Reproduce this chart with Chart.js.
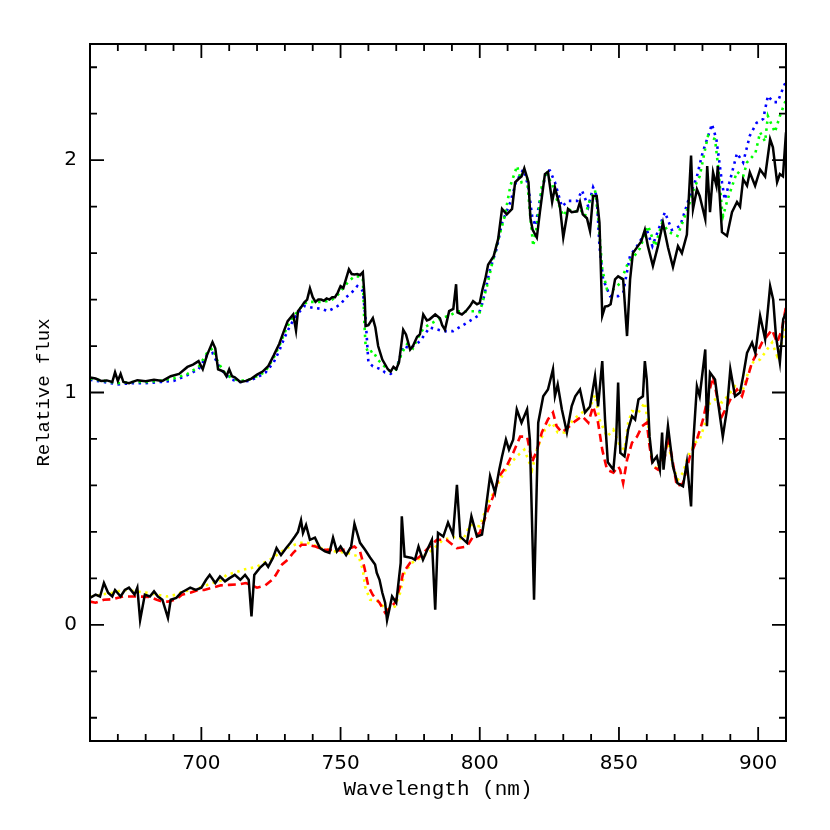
<!DOCTYPE html>
<html lang="en">
<head>
<meta charset="UTF-8">
<title>Relative flux</title>
<script src="https://cdn.jsdelivr.net/npm/chart.js"></script>
<style>
  html, body { margin: 0; padding: 0; background: #fff; }
  #wrap { width: 830px; height: 830px; }
</style>
</head>
<body>
<div id="wrap"><canvas id="spec" width="830" height="830"></canvas></div>
<script>
// upper spectrum (observed, offset +1) and its two models
const obsTopWave = [660,662,664,666,668,669,670,671,672,674,677,680,683,686,689,692,695,697,699,700.5,702,704,705,706,708,709,710,711,712,714,716,718,720,722,724,726,728,729.5,731,733,734,734.7,736,737,738,739,740,741,742,743,744,745,746,747,748,749,750,751,752,753,754,755,756,757,758,758.7,759,760,761.6,762.5,763.5,765,767,768,769,770,771,772.5,773.5,775,776,777.5,778.5,779.7,781,782,784,785.7,786.5,787.5,789,790.5,791.5,792,793.6,795,796.5,797.6,799,800,801,802,803,805,806.6,808,809.7,811.6,812.7,814,815,816,817.5,818.2,819,820.5,821.6,823.4,824.5,826,827,828.8,830,831.7,833,835,836,837,838.5,839.6,840.7,842,843,844,845,846,847,848.6,849.7,851.5,852.9,854,855,856.8,858,859.3,860.4,862.2,864,865.8,867.6,869.4,871.2,872.6,874.4,875.9,876.6,878,879,881,881.7,882.7,883.8,885,885.5,887,888.8,890.6,892.4,893.5,894.6,896,897,898.9,900.7,902.5,904.3,905.3,906.8,907.8,908.9,910];
const obsTopFlux = [1.065,1.06,1.05,1.052,1.045,1.087,1.05,1.08,1.045,1.04,1.053,1.048,1.055,1.05,1.07,1.08,1.11,1.12,1.135,1.10,1.16,1.217,1.19,1.10,1.09,1.07,1.10,1.07,1.065,1.045,1.05,1.06,1.077,1.09,1.113,1.16,1.21,1.26,1.307,1.336,1.267,1.35,1.37,1.388,1.40,1.448,1.41,1.39,1.40,1.40,1.395,1.405,1.40,1.41,1.41,1.43,1.458,1.45,1.49,1.53,1.51,1.508,1.51,1.505,1.518,1.40,1.286,1.29,1.32,1.28,1.20,1.142,1.10,1.09,1.11,1.10,1.13,1.27,1.25,1.185,1.20,1.24,1.25,1.336,1.31,1.315,1.336,1.32,1.29,1.27,1.35,1.36,1.466,1.345,1.336,1.35,1.372,1.393,1.38,1.386,1.444,1.49,1.55,1.587,1.66,1.79,1.767,1.79,1.905,1.92,1.93,1.965,1.905,1.75,1.70,1.667,1.776,1.94,1.95,1.82,1.883,1.80,1.667,1.79,1.776,1.78,1.82,1.767,1.75,1.695,1.846,1.846,1.73,1.33,1.37,1.372,1.38,1.487,1.50,1.487,1.243,1.487,1.60,1.63,1.65,1.70,1.63,1.545,1.63,1.73,1.625,1.54,1.63,1.60,1.68,2.02,1.79,1.875,1.846,1.746,1.975,1.776,1.948,1.89,1.975,1.69,1.674,1.776,1.82,1.80,1.918,1.89,1.948,1.89,1.96,1.93,2.09,2.055,1.905,1.94,1.93,2.12];

const modTopGreenWave = [660,665,670,675,680,685,690,695,699,702,704,706,708,711,714,717,720,723,726,728,730,732,734,736,738,741,744,747,749,751,753,755,757,758,758.5,759,760,761.5,763.5,766,768,770,772,774,776,778,780,783,786,789,792,795,798,800,802.6,804.8,807,809,811,813.4,815,817,818,819.2,820.5,822.3,824,826,827.7,830,831.7,834,836,837.8,839.6,841.4,842.5,844,845.7,848,850.4,853.3,856.4,857.5,860.5,863,865.5,868,871,873.7,875.5,877,879,881,882,884.5,885.6,887,887.4,889,892.4,894.6,896,899,900.7,902.5,903.5,906,907.8,910];
const modTopGreenFlux = [1.06,1.05,1.04,1.045,1.045,1.05,1.06,1.08,1.11,1.17,1.19,1.13,1.09,1.06,1.05,1.055,1.07,1.09,1.15,1.20,1.26,1.31,1.34,1.37,1.39,1.39,1.39,1.40,1.42,1.45,1.48,1.50,1.50,1.49,1.31,1.20,1.17,1.18,1.14,1.11,1.09,1.10,1.17,1.21,1.19,1.24,1.28,1.30,1.32,1.33,1.35,1.35,1.35,1.345,1.458,1.573,1.674,1.76,1.89,1.975,1.905,1.918,1.776,1.63,1.717,1.89,1.94,1.897,1.83,1.76,1.79,1.776,1.79,1.76,1.83,1.87,1.76,1.53,1.444,1.444,1.47,1.56,1.60,1.62,1.717,1.63,1.73,1.69,1.674,1.76,1.82,1.88,1.93,2.05,2.105,2.09,1.975,1.79,1.76,1.83,1.95,1.93,1.99,2.03,2.12,2.08,2.19,2.12,2.19,2.26];

const modTopBlueWave = [660,665,670,675,680,685,690,695,699,702,704,706,708,711,714,717,720,723,726,728,730,732,734,737,740,743,745.5,748,750,752,754,756,758,759,760,761.6,764.5,766,768,770,772.5,775,778.5,782,787,790.4,795.4,799.4,801,803.7,806,808,811,813,815.6,817.4,818.8,820,821.6,824,825.2,827,829.5,831.7,835,836.7,839,840.7,842,843,844.3,846.8,849.7,851.5,854,856.5,860,862,866.5,869,872,875,878,880,883.4,885,887,888,890,892.4,894.6,897,899.4,901.8,903.5,905.4,907,908.8,910];
const modTopBlueFlux = [1.055,1.045,1.035,1.04,1.04,1.045,1.05,1.075,1.10,1.16,1.17,1.12,1.085,1.055,1.045,1.05,1.065,1.085,1.13,1.18,1.24,1.29,1.33,1.372,1.365,1.36,1.35,1.365,1.38,1.41,1.43,1.458,1.437,1.315,1.13,1.113,1.10,1.086,1.08,1.10,1.20,1.19,1.22,1.28,1.264,1.264,1.30,1.33,1.386,1.53,1.616,1.73,1.82,1.905,1.96,1.89,1.76,1.717,1.83,1.955,1.955,1.905,1.80,1.825,1.825,1.87,1.80,1.883,1.846,1.63,1.487,1.415,1.415,1.43,1.59,1.63,1.70,1.63,1.776,1.70,1.717,1.83,1.93,2.03,2.155,2.09,1.905,1.83,1.918,2.03,1.99,2.105,2.16,2.177,2.277,2.25,2.25,2.306,2.34];

// lower spectrum (observed) and its two models
const obsBotWave = [660,662,663.6,665,666.5,668,669,671,672.5,674,676,677,678,679.7,681.5,683,684.4,686,688,689,691,692.7,694.5,696,698,700,701.7,703,705,706.7,708.5,710,712,714,715.7,717,718,719,721,723,724,725.7,727,728.6,730.4,732,733.6,734.7,735.8,736.5,737.6,739,740.8,742.6,744.4,746,747.3,748.7,750,752,753.8,755,757,758.8,760.6,762.4,763,764,765,766,766.7,768.5,770,771.6,772,773,775.6,776.7,778,779.6,781.4,782.8,784,785,786.9,788.6,790.4,791.8,793,795.4,797,799,800.8,802,803.7,805.5,807,808,809.4,810.5,812,813.3,815,817,818,819.5,821,822.8,824.5,826.3,827,828,829.5,831.3,833,834.3,836,837.8,839.6,841.4,842.5,844,845,846,848,849,849.7,850.5,852,853.3,854.7,855.8,857,858.6,859.3,860,861,862,863.6,864.7,865.5,866,867.6,869.4,871,873,874.4,875.9,876.6,878,879,881,881.6,882.7,884.5,885.6,887.3,888.8,890,891.7,893.5,894.6,896,897.8,899,900.7,902.5,904.3,905.4,906.4,907.8,909,910];
const obsBotFlux = [0.116,0.13,0.122,0.18,0.138,0.122,0.15,0.122,0.15,0.16,0.13,0.16,0.02,0.13,0.122,0.144,0.122,0.108,0.03,0.108,0.116,0.138,0.15,0.16,0.15,0.16,0.194,0.215,0.18,0.208,0.187,0.20,0.215,0.194,0.215,0.194,0.036,0.215,0.245,0.267,0.25,0.288,0.33,0.30,0.33,0.353,0.38,0.40,0.45,0.396,0.43,0.366,0.375,0.33,0.316,0.31,0.375,0.316,0.337,0.30,0.337,0.435,0.353,0.323,0.29,0.26,0.224,0.194,0.138,0.095,0.02,0.122,0.095,0.267,0.467,0.294,0.288,0.28,0.337,0.28,0.33,0.366,0.065,0.396,0.38,0.44,0.388,0.603,0.38,0.353,0.467,0.38,0.388,0.483,0.64,0.569,0.668,0.725,0.797,0.754,0.797,0.927,0.87,0.927,0.797,0.108,0.87,0.984,1.013,1.10,0.984,1.034,0.927,0.828,0.94,0.984,1.013,0.914,0.94,1.07,0.94,1.135,0.884,0.70,0.668,0.80,1.043,0.74,0.725,0.84,0.898,0.884,0.97,0.984,1.135,1.056,0.81,0.70,0.725,0.668,0.828,0.668,0.855,0.682,0.61,0.596,0.70,0.51,0.768,1.027,0.984,1.185,0.855,1.086,1.056,0.957,0.81,0.927,1.10,0.984,1.00,1.07,1.17,1.215,1.17,1.33,1.23,1.458,1.40,1.243,1.13,1.315,1.345];

const modBotRedWave = [660,662,665,668,672,677,681.5,684,686,688,691,693,696,699,701,704,707,710,714,716,718,720,723,726,729,731,733,736,738,741,744,746,750,753.4,755,757,758.5,760,761.5,764,766,767.8,769.5,771.4,772.5,775,778.5,781.4,784.6,788,791.8,795.4,797.6,800,802.6,804.8,807,809.6,812,814.5,817,818.8,820.6,822.3,824.5,826.3,827.6,829.5,831.8,834.3,836.8,839,840.7,842.5,844,845.7,848,849.7,850.4,851.5,852.9,854.7,856.5,858.3,860,861,862.2,864,866.5,867.6,869,870.8,873,875.5,878,880.2,882,883.8,885.6,887,888.8,890.6,892.4,894.2,896,897.8,899.6,901.4,903.2,905,906.8,908.5,910];
const modBotRedFlux = [0.10,0.095,0.108,0.11,0.122,0.122,0.12,0.108,0.10,0.10,0.11,0.13,0.138,0.15,0.15,0.16,0.17,0.172,0.175,0.18,0.17,0.16,0.17,0.20,0.26,0.28,0.31,0.345,0.345,0.337,0.323,0.323,0.32,0.33,0.337,0.316,0.25,0.165,0.13,0.095,0.052,0.073,0.095,0.165,0.224,0.267,0.294,0.33,0.366,0.366,0.33,0.337,0.38,0.396,0.483,0.553,0.64,0.682,0.74,0.81,0.81,0.70,0.754,0.828,0.884,0.914,0.855,0.828,0.85,0.877,0.898,0.87,0.94,0.87,0.754,0.668,0.655,0.682,0.668,0.61,0.71,0.784,0.81,0.855,0.87,0.768,0.682,0.668,0.725,0.81,0.725,0.596,0.61,0.725,0.797,0.884,0.984,1.07,0.957,0.898,0.94,0.984,1.013,0.984,1.056,1.13,1.17,1.215,1.243,1.27,1.215,1.27,1.37];

const modBotYellowWave = [660,664,668,672,676,680.5,684,687.6,691,693.4,697,700.6,704,707,709,712,715,720,723.6,726,728,731.8,735.4,738,740,743,746,748,752.3,755,756.5,758,758.8,760.6,763,766.7,769.5,771.4,773,775.6,779.6,783,786.8,791.8,794,796.5,800,803,805.5,808,810,813.3,816,818.8,820.5,823.4,826,828,830.6,833.6,836.8,839.6,841.4,843,845.7,848,850.4,852,853.3,854.7,857,859.3,860.4,861.8,863.6,865.8,867.6,869.4,871.2,873,874.8,877.3,879,881,882.7,884.5,887,889,891.7,894.2,896.4,898.2,900.7,903.2,905,906.8,908.5,910];
const modBotYellowFlux = [0.12,0.13,0.138,0.15,0.145,0.138,0.13,0.122,0.13,0.144,0.15,0.165,0.18,0.19,0.215,0.225,0.237,0.25,0.275,0.29,0.31,0.337,0.353,0.353,0.345,0.33,0.323,0.316,0.31,0.30,0.294,0.237,0.165,0.108,0.105,0.065,0.079,0.138,0.224,0.267,0.294,0.323,0.366,0.38,0.366,0.43,0.424,0.526,0.58,0.64,0.68,0.725,0.754,0.668,0.754,0.84,0.87,0.828,0.828,0.884,0.914,0.935,0.99,0.884,0.81,0.84,0.768,0.754,0.87,0.92,0.914,0.957,0.87,0.71,0.668,0.725,0.784,0.682,0.625,0.655,0.725,0.784,0.797,0.87,0.957,0.97,0.957,0.984,1.027,1.00,1.086,1.13,1.142,1.185,1.215,1.157,1.215,1.286];

// axis ticks
const xMajorTicks = [700, 750, 800, 850, 900];
const xMinorTicks = [670, 680, 690, 710, 720, 730, 740, 760, 770, 780, 790, 810, 820, 830, 840, 860, 870, 880, 890, 910];
const yMajorTicks = [0, 1, 2];
const yMinorTicks = [-0.4, -0.2, 0.2, 0.4, 0.6, 0.8, 1.2, 1.4, 1.6, 1.8, 2.2, 2.4];

function pairs(w, f) {
  return w.map((x, i) => ({ x: x, y: f[i] }));
}

function line(w, f, color, width, dash) {
  return {
    data: pairs(w, f),
    showLine: true,
    borderColor: color,
    borderWidth: width,
    borderDash: dash,
    borderCapStyle: 'butt',
    pointRadius: 0,
    fill: false,
    tension: 0
  };
}

// frame with inward ticks on all four sides
const frameTicks = {
  id: 'frameTicks',
  afterDraw(chart) {
    const { ctx, chartArea: a, scales: { x, y } } = chart;
    ctx.save();
    ctx.strokeStyle = '#000';
    ctx.lineWidth = 1.8;
    ctx.beginPath();
    const tx = (v, len) => {
      const p = x.getPixelForValue(v);
      ctx.moveTo(p, a.bottom); ctx.lineTo(p, a.bottom - len);
      ctx.moveTo(p, a.top); ctx.lineTo(p, a.top + len);
    };
    const ty = (v, len) => {
      const p = y.getPixelForValue(v);
      ctx.moveTo(a.left, p); ctx.lineTo(a.left + len, p);
      ctx.moveTo(a.right, p); ctx.lineTo(a.right - len, p);
    };
    xMajorTicks.forEach(v => tx(v, 14));
    xMinorTicks.forEach(v => tx(v, 7));
    yMajorTicks.forEach(v => ty(v, 14));
    yMinorTicks.forEach(v => ty(v, 7));
    ctx.stroke();
    ctx.lineWidth = 2;
    ctx.strokeRect(a.left, a.top, a.right - a.left, a.bottom - a.top);
    ctx.restore();
  }
};

new Chart(document.getElementById('spec'), {
  type: 'scatter',
  data: {
    datasets: [
      line(obsTopWave, obsTopFlux, '#000000', 2.5, []),
      line(obsBotWave, obsBotFlux, '#000000', 2.5, []),
      line(modTopGreenWave, modTopGreenFlux, '#00ff00', 2.6, [2.5, 4.5]),
      line(modTopBlueWave, modTopBlueFlux, '#0000ff', 2.6, [2.5, 4.5]),
      line(modBotRedWave, modBotRedFlux, '#ff0000', 2.6, [8, 5]),
      line(modBotYellowWave, modBotYellowFlux, '#ffff00', 2.6, [2.5, 4.5])
    ]
  },
  options: {
    responsive: false,
    animation: false,
    layout: { padding: { top: 44, right: 44, left: 0, bottom: 0 } },
    plugins: { legend: { display: false }, tooltip: { enabled: false } },
    scales: {
      x: {
        type: 'linear',
        min: 660,
        max: 910,
        afterBuildTicks: s => { s.ticks = xMajorTicks.map(v => ({ value: v })); },
        afterFit: s => { s.height = 89; },
        grid: { display: false, drawTicks: false },
        border: { display: false },
        ticks: { autoSkip: false, maxRotation: 0, padding: 11, color: '#000', font: { family: 'DejaVu Sans', size: 20 } },
        title: { display: true, text: 'Wavelength (nm)', color: '#000', padding: { top: 0, bottom: 28 }, font: { family: 'Liberation Mono', size: 21 } }
      },
      y: {
        type: 'linear',
        min: -0.5,
        max: 2.5,
        afterBuildTicks: s => { s.ticks = yMajorTicks.map(v => ({ value: v })); },
        afterFit: s => { s.width = 90; },
        grid: { display: false, drawTicks: false },
        border: { display: false },
        ticks: { autoSkip: false, padding: 13, color: '#000', font: { family: 'DejaVu Sans', size: 20 } },
        title: { display: true, text: 'Relative flux', color: '#000', padding: { top: 33, bottom: 0 }, font: { family: 'Liberation Mono', size: 19 } }
      }
    }
  },
  plugins: [frameTicks]
});
</script>
</body>
</html>
